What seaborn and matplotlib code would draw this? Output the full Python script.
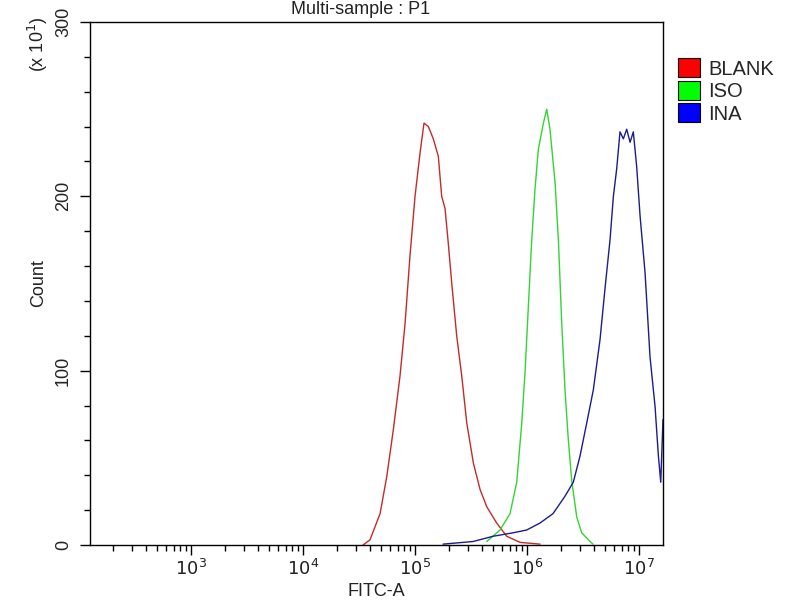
import numpy as np
import pandas as pd
import matplotlib
matplotlib.use("Agg")
import matplotlib.pyplot as plt
from matplotlib.patches import Patch
from matplotlib.ticker import LogLocator, MultipleLocator, NullFormatter
import seaborn as sns

# ---- data (x as log10 of FITC-A, y as Count in units of 10) ----
blank_log = [4.536, 4.598, 4.688, 4.747, 4.806, 4.866, 4.911, 4.955, 5.000, 5.045,
             5.080, 5.119, 5.163, 5.208, 5.238, 5.268, 5.297, 5.328, 5.372, 5.417,
             5.462, 5.521, 5.580, 5.640, 5.729, 5.819, 5.938, 6.116]
blank_cnt = [0, 3, 18, 39, 66, 97, 127, 166, 200, 225,
             242, 240, 233, 223, 200, 193, 173, 150, 120, 97,
             70, 47, 32, 22, 12.6, 5, 1.5, 0.5]

iso_log = [5.640, 5.759, 5.848, 5.908, 5.953, 5.982, 6.012, 6.042, 6.071, 6.101,
           6.146, 6.176, 6.205, 6.250, 6.280, 6.310, 6.339, 6.369, 6.399, 6.444,
           6.488, 6.563, 6.589]
iso_cnt = [2, 8.6, 18, 36, 70, 99, 137, 175, 204, 227,
           242, 250, 238.5, 208, 175, 127, 89, 60, 37, 16,
           7, 2, 0.5]

ina_log = [5.250, 5.518, 5.696, 5.875, 5.997, 6.116, 6.232, 6.339, 6.413, 6.473,
           6.533, 6.592, 6.652, 6.696, 6.741, 6.771, 6.801, 6.830, 6.860, 6.890,
           6.920, 6.949, 6.979, 7.009, 7.054, 7.098, 7.143, 7.173, 7.194, 7.214]
ina_cnt = [0.5, 2, 5, 7, 8.6, 12.6, 18, 28, 36, 51,
           70, 89, 118, 147, 175, 200, 216, 237, 233, 238.5,
           231, 237, 217, 189, 156, 108, 79.5, 51, 36, 72]

samples = ["BLANK", "ISO", "INA"]
line_colors = {"BLANK": "#c42a2a", "ISO": "#33d433", "INA": "#1c1c8c"}
legend_colors = {"BLANK": "#ff0000", "ISO": "#00ff00", "INA": "#0000ff"}

frames = []
for name, lg, cnt in [("BLANK", blank_log, blank_cnt),
                      ("ISO", iso_log, iso_cnt),
                      ("INA", ina_log, ina_cnt)]:
    frames.append(pd.DataFrame({"FITC": np.power(10.0, lg), "Count": cnt, "Sample": name}))
df = pd.concat(frames, ignore_index=True)

sns.set_theme(style="white")
plt.rcParams["font.family"] = ["Liberation Sans", "DejaVu Sans"]

fig = plt.figure(figsize=(8, 6), dpi=100)
ax = fig.add_axes([90 / 800, 1 - 545 / 600, (663 - 90) / 800, (545 - 22) / 600])

sns.lineplot(data=df, x="FITC", y="Count", hue="Sample", palette=line_colors,
             hue_order=samples, estimator=None, sort=False, linewidth=1.0,
             legend=False, ax=ax)

ax.set_xscale("log")
ax.set_xlim(10 ** 2.098, 10 ** 7.214)
ax.set_ylim(0, 300)

ax.xaxis.set_major_locator(LogLocator(base=10, numticks=12))
ax.xaxis.set_minor_locator(LogLocator(base=10, subs=np.arange(2, 10), numticks=12))
ax.xaxis.set_minor_formatter(NullFormatter())
ax.set_xticks([1e3, 1e4, 1e5, 1e6, 1e7])
ax.set_xticklabels([r"$10^{3}$", r"$10^{4}$", r"$10^{5}$", r"$10^{6}$", r"$10^{7}$"])
ax.yaxis.set_major_locator(MultipleLocator(100))
ax.yaxis.set_minor_locator(MultipleLocator(20))

ax.tick_params(axis="both", which="major", direction="out", length=7, width=1,
               color="black", labelsize=13, labelcolor="#222222")
ax.tick_params(axis="both", which="minor", direction="out", length=4.5, width=1,
               color="black")
ax.tick_params(axis="x", which="major", pad=3)
ax.tick_params(axis="y", which="major", pad=6)
ax.tick_params(axis="x", which="both", bottom=True)
ax.tick_params(axis="y", which="both", left=True)
for lbl in ax.get_yticklabels():
    lbl.set_rotation(90)
    lbl.set_va("center")

for s in ax.spines.values():
    s.set_visible(True)
    s.set_color("black")
    s.set_linewidth(1.0)

ax.set_xlabel("")
ax.set_ylabel("")

fig.text(361 / 800, 1 - 9 / 600, "Multi-sample : P1", ha="center", va="center",
         fontsize=13, color="#222222")
fig.text(376 / 800, 1 - 591 / 600, "FITC-A", ha="center", va="center",
         fontsize=13, color="#222222")
fig.text(39 / 800, 1 - 283 / 600, "Count", ha="center", va="center",
         rotation=90, fontsize=13, color="#222222")
fig.text(38 / 800, 1 - 44 / 600, r"(x 10$^{1}$)", ha="center", va="center",
         rotation=90, fontsize=13, color="#222222")

handles = [Patch(facecolor=legend_colors[s], edgecolor="black", linewidth=0.8, label=s)
           for s in samples]
fig.legend(handles=handles, loc="upper left", bbox_to_anchor=(664 / 800, 1 - 44 / 600),
           frameon=False, fontsize=14.5, handlelength=1.1, handleheight=1.1,
           handletextpad=0.4, labelspacing=0.1, borderpad=0.2)

fig.savefig("out.png", dpi=100)
